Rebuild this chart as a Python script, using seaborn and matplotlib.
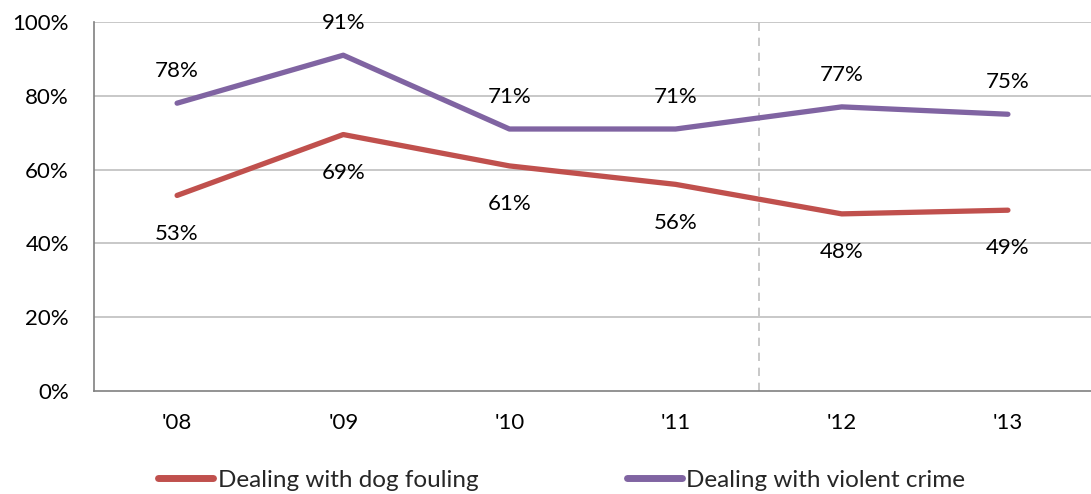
import matplotlib
matplotlib.use("Agg")
import matplotlib.pyplot as plt
import seaborn as sns
import pandas as pd

years = ["'08", "'09", "'10", "'11", "'12", "'13"]
dog_fouling = [53, 69.5, 61, 56, 48, 49]
dog_labels = ["53%", "69%", "61%", "56%", "48%", "49%"]
violent_crime = [78, 91, 71, 71, 77, 75]
violent_labels = ["78%", "91%", "71%", "71%", "77%", "75%"]
series_names = ["Dealing with dog fouling", "Dealing with violent crime"]
y_ticks = [0, 20, 40, 60, 80, 100]

sns.set_theme(style="white")
plt.rcParams["font.family"] = ["Lato", "DejaVu Sans"]
FS = 16

df = pd.DataFrame({
    "pos": list(range(len(years))) * 2,
    "value": [v / 100 for v in dog_fouling] + [v / 100 for v in violent_crime],
    "series": [series_names[0]] * len(years) + [series_names[1]] * len(years),
})

fig = plt.figure(figsize=(10.91, 4.94), dpi=100)
ax = fig.add_axes([94 / 1091, 103 / 494, 1 - 94 / 1091, 369 / 494])

grid_c = "#BFBFBF"
for t in y_ticks[1:]:
    ax.axhline(t / 100, color=grid_c, lw=1.2, zorder=0)
ax.axvline(3.5, color="#BFBFBF", lw=1.2, ls=(0, (5, 4)), zorder=0)

palette = {series_names[0]: "#C0504D", series_names[1]: "#8064A2"}
sns.lineplot(data=df, x="pos", y="value", hue="series", palette=palette,
             lw=3.8, ax=ax, solid_capstyle="round", legend=True)

for i in range(len(years)):
    ax.annotate(violent_labels[i], (i, violent_crime[i] / 100), xytext=(0, 23),
                textcoords="offset points", ha="center", va="center",
                fontsize=FS, color="black")
    ax.annotate(dog_labels[i], (i, dog_fouling[i] / 100), xytext=(0, -27.5),
                textcoords="offset points", ha="center", va="center",
                fontsize=FS, color="black")

ax.set_xlim(-0.5, 5.47)
ax.set_ylim(0, 1)
ax.set_yticks([t / 100 for t in y_ticks])
ax.set_yticklabels([f"{t}%" for t in y_ticks], fontsize=FS, color="black")
ax.set_xticks([i + 0.5 for i in range(-1, len(years))])
ax.set_xticklabels([])
ax.set_xticks(range(len(years)), minor=True)
ax.set_xticklabels(years, minor=True, fontsize=FS, color="black")
ax.tick_params(axis="x", which="major", direction="out", length=7, color="#808080", width=1.2)
ax.tick_params(axis="x", which="minor", length=0, pad=16)
ax.tick_params(axis="y", direction="out", length=7, color="#808080", width=1.2, pad=11)
ax.set_xlabel("")
ax.set_ylabel("")

for s in ["top", "right"]:
    ax.spines[s].set_visible(False)
for s in ["left", "bottom"]:
    ax.spines[s].set_color("#808080")
    ax.spines[s].set_linewidth(1.2)

handles, labels = ax.get_legend_handles_labels()
ax.get_legend().remove()
for h in handles:
    h.set_linewidth(5)
fig.legend(handles, labels, loc="center left", bbox_to_anchor=(158 / 1091, 14 / 494),
           ncol=2, frameon=False, prop={"family": "Lato", "size": 17.5},
           handlelength=2.26, handletextpad=0.2, columnspacing=6.1, borderpad=0,
           borderaxespad=0)

fig.savefig("out.png", dpi=100)
